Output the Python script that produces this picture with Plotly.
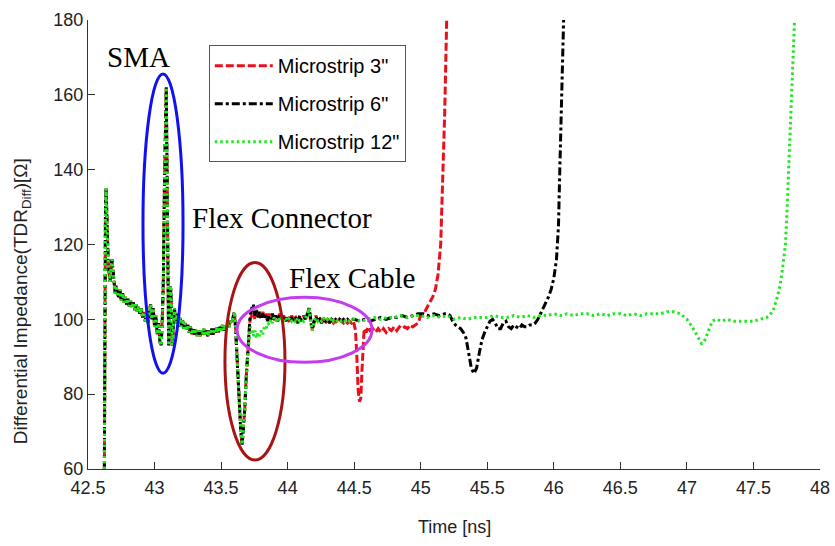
import plotly.graph_objects as go

# ---------------- data ----------------
# shared launch section (SMA + flex connector), time in ns
t_head = [42.623, 42.627, 42.631, 42.636, 42.641, 42.646, 42.652, 42.659, 42.666, 42.673,
          42.680, 42.688, 42.696, 42.704, 42.712, 42.720, 42.730, 42.740, 42.750, 42.760,
          42.770, 42.780, 42.790, 42.800, 42.810, 42.820, 42.830, 42.840, 42.850, 42.860,
          42.870, 42.880, 42.890, 42.900, 42.910, 42.920, 42.930, 42.940, 42.950, 42.960,
          42.970, 42.980, 42.990, 43.000, 43.010, 43.020, 43.030, 43.040, 43.050, 43.058,
          43.066, 43.074, 43.082, 43.088, 43.094, 43.100, 43.106, 43.113, 43.120, 43.127,
          43.134, 43.141, 43.150, 43.160, 43.170, 43.180, 43.190, 43.200, 43.210, 43.220,
          43.230, 43.240, 43.250, 43.260, 43.270, 43.280, 43.290, 43.300, 43.310, 43.320,
          43.330, 43.340, 43.350, 43.360, 43.370, 43.380, 43.390, 43.400, 43.410, 43.420,
          43.430, 43.440, 43.450, 43.460, 43.470, 43.480, 43.490, 43.500, 43.510, 43.520,
          43.530, 43.540, 43.550, 43.560, 43.570, 43.580, 43.590, 43.600, 43.610, 43.620,
          43.630, 43.640, 43.648, 43.658, 43.668, 43.678, 43.688, 43.698, 43.708]
z_head = [60, 110, 128, 135, 128, 120, 115, 112, 110, 114,
          116, 113, 110, 107, 109, 107, 106, 108, 105, 107,
          104.5, 106, 104, 105.5, 103.5, 105, 103, 104.5, 102.5, 104,
          102, 103.5, 101.5, 103, 100.5, 102, 99.5, 101.5, 99, 102,
          104, 100, 103, 98, 101, 96, 99, 94, 93, 100,
          110, 135, 155, 162, 140, 110, 93, 100, 109, 104,
          93, 98, 103, 99, 101.5, 99, 100.5, 98, 100, 97.5,
          99, 97, 98.5, 96.5, 98, 96, 97.5, 96, 97.5, 95.5,
          97, 95.5, 97, 96, 97.5, 96, 97, 95.5, 97, 96,
          97.5, 96, 97.5, 96.5, 98, 96.5, 98, 97, 98.5, 97,
          98.5, 97.5, 99, 98, 99.5, 99, 101, 102, 97, 89,
          83, 76, 70, 66.5, 71, 76, 84, 89, 95]

# flex cable section, per trace
t_mid = [43.718, 43.730, 43.742, 43.754, 43.766, 43.778, 43.790, 43.802, 43.814, 43.826,
         43.838, 43.850, 43.862, 43.874, 43.886, 43.898, 43.910, 43.925, 43.940, 43.955,
         43.970, 43.985, 44.000, 44.015, 44.030, 44.045, 44.060, 44.075, 44.090, 44.105,
         44.120, 44.135, 44.150, 44.162, 44.174, 44.186, 44.198, 44.212, 44.226, 44.240,
         44.255, 44.270, 44.285, 44.300, 44.315, 44.330, 44.345, 44.360, 44.375, 44.390,
         44.405, 44.420, 44.435, 44.450, 44.465, 44.480]
z3_mid = [100, 101, 102, 100, 102, 100.5, 101.5, 100, 102, 100.5,
          101.5, 100, 101.5, 100, 101, 99.5, 101, 100, 101.5, 100,
          101, 99.5, 100.5, 99, 101, 100, 100.5, 99, 100.5, 99.5,
          101, 100, 102, 103, 99, 97, 99, 101, 99.5, 100.5,
          99.5, 100, 99, 100, 99.5, 100, 99, 99.5, 99, 100,
          99.5, 99, 99.5, 99, 99.5, 99]
z6_mid = [101, 103, 104, 101, 102.5, 100.5, 102, 100, 101.5, 100,
          101, 99.5, 101, 100, 101.5, 100, 101, 99.5, 101, 100,
          101, 99.5, 101, 99.5, 100.5, 99.5, 100.5, 99, 101, 99.5,
          100, 100.5, 101.5, 103, 100, 97.5, 99.5, 100.5, 99.5, 100,
          99, 100, 99.5, 100, 99, 100, 99.5, 100, 99.5, 100,
          99.5, 100, 99.5, 100, 99.5, 100]
z12_mid = [98, 97, 95.5, 97, 95, 96.5, 95.5, 97, 96, 98,
           97.5, 99, 98.5, 100, 99, 100.5, 99.5, 100.5, 99.5, 100.5,
           99.5, 100.5, 99.5, 100.5, 99.5, 100, 99, 100.5, 99.5, 100,
           99.5, 100.5, 101.5, 103, 99, 97, 99.5, 100.5, 99.5, 100,
           99.5, 100.5, 99.5, 100, 99.5, 100.5, 99.5, 100, 99.5, 100,
           99.5, 100, 99.5, 100, 99.5, 100]

# tails
t3_tail = [44.495, 44.510, 44.520, 44.530, 44.540, 44.550, 44.558, 44.566, 44.575, 44.590,
           44.605, 44.620, 44.640, 44.660, 44.680, 44.700, 44.720, 44.740, 44.760, 44.780,
           44.800, 44.820, 44.840, 44.860, 44.880, 44.900, 44.920, 44.940, 44.960, 44.980,
           45.000, 45.030, 45.060, 45.090, 45.110, 45.130, 45.150, 45.165, 45.180, 45.195,
           45.205]
z3_tail = [99.5, 97, 90, 81, 78, 79, 86, 94, 97.5, 96.5,
           98, 97, 97.5, 96.5, 97.5, 96.5, 97.5, 96.5, 97.5, 97,
           98, 97, 98, 97.5, 98, 97.5, 98.5, 98, 98.5, 99,
           101, 102, 104, 106, 108, 112, 120, 135, 155, 180,
           190]

t6_tail = [44.500, 44.540, 44.580, 44.620, 44.660, 44.700, 44.740, 44.780, 44.820, 44.860,
           44.900, 44.940, 44.980, 45.020, 45.060, 45.100, 45.140, 45.180, 45.200, 45.220,
           45.240, 45.260, 45.280, 45.300, 45.320, 45.340, 45.360, 45.380, 45.400, 45.420,
           45.440, 45.460, 45.480, 45.500, 45.520, 45.540, 45.560, 45.580, 45.600, 45.620,
           45.640, 45.660, 45.680, 45.700, 45.720, 45.740, 45.760, 45.780, 45.800, 45.820,
           45.840, 45.860, 45.880, 45.900, 45.920, 45.940, 45.960, 45.980, 46.000, 46.020,
           46.035, 46.045, 46.055, 46.065, 46.075]
z6_tail = [100, 99.5, 100, 99.5, 100, 100.5, 100, 100.5, 100.5, 101,
           100.5, 101, 101.5, 101.5, 101, 101.5, 101, 101.5, 101.5, 101,
           99.5, 98.5, 98, 97.5, 96.5, 95, 91, 87, 85.5, 87,
           91, 94.5, 96.5, 98, 99.5, 100, 99, 97.5, 97.5, 99,
           99.5, 98, 97.5, 98.5, 98, 97.5, 98.5, 98, 98, 98.5,
           98.5, 99, 100, 101.5, 103, 104.5, 106, 108, 111, 116,
           125, 140, 155, 170, 182]

t12_tail = [44.500, 44.550, 44.600, 44.650, 44.700, 44.750, 44.800, 44.850, 44.900, 44.950,
            45.000, 45.050, 45.100, 45.150, 45.200, 45.250, 45.300, 45.350, 45.400, 45.450,
            45.500, 45.550, 45.600, 45.650, 45.700, 45.750, 45.800, 45.850, 45.900, 45.950,
            46.000, 46.050, 46.100, 46.150, 46.200, 46.250, 46.300, 46.350, 46.400, 46.450,
            46.500, 46.550, 46.600, 46.650, 46.700, 46.750, 46.800, 46.850, 46.900, 46.950,
            47.000, 47.040, 47.080, 47.110, 47.130, 47.160, 47.190, 47.220, 47.260, 47.300,
            47.350, 47.400, 47.450, 47.500, 47.550, 47.600, 47.620, 47.650, 47.680, 47.700,
            47.720, 47.740, 47.750, 47.765, 47.780, 47.790, 47.800, 47.810]
z12_tail = [100, 99.5, 100, 100.5, 100, 100.5, 100.5, 101, 100.5, 101,
            101, 100.5, 101, 100.5, 101, 100, 100.5, 100, 100.5, 100.5,
            100.5, 101, 100.5, 100.5, 101, 100.5, 101, 100.5, 101, 101,
            101.5, 101, 101.5, 101, 101.5, 101.5, 101, 101.5, 101, 101.5,
            101.5, 101, 101.5, 101, 101.5, 101.5, 101.5, 102, 102, 101.5,
            100, 98, 95.5, 93.5, 94, 97, 99.5, 100, 99.5, 100,
            99.5, 99.5, 99.5, 99.5, 100, 100.5, 101, 102.5, 106, 109,
            114, 120, 127, 140, 152, 162, 172, 181]

series_names = ['Microstrip 3"', 'Microstrip 6"', 'Microstrip 12"']

# ---------------- figure ----------------
t3 = t_head + t_mid + t3_tail
z3 = z_head + z3_mid + z3_tail
t6 = t_head + t_mid + t6_tail
z6 = z_head + z6_mid + z6_tail
t12 = t_head + t_mid + t12_tail
z12 = z_head + z12_mid + z12_tail

styles = [
    dict(color="#e8101a", dash="8px,3px"),
    dict(color="#000000", dash="8px,3px,3px,3px"),
    dict(color="#1ee81e", dash="2.5px,3px"),
]

fig = go.Figure()
for i, (tt, zz) in enumerate([(t3, z3), (t6, z6), (t12, z12)]):
    fig.add_trace(go.Scatter(
        x=tt, y=zz, mode="lines", name=series_names[i],
        legendgroup=f"g{i}",
        line=dict(width=3, color=styles[i]["color"], dash=styles[i]["dash"]),
    ))

serif = "Liberation Serif, Times New Roman, serif"
sans = "Liberation Sans, Arial, sans-serif"

# ellipses
fig.add_shape(type="circle", xref="x", yref="y", x0=42.913, x1=43.214, y0=85.6, y1=165.6,
              line=dict(color="#1010f0", width=3))
fig.add_shape(type="circle", xref="x", yref="y", x0=43.529, x1=43.98, y0=62.4, y1=115.2,
              line=dict(color="#a81414", width=3))
fig.add_shape(type="circle", xref="x", yref="y", x0=43.62, x1=44.634, y0=88.5, y1=105.9,
              line=dict(color="#c43cf0", width=3))

fig.add_annotation(x=42.876, y=170, text="SMA", showarrow=False,
                   font=dict(family=serif, size=29, color="black"))
fig.add_annotation(x=43.958, y=127.2, text="Flex Connector", showarrow=False,
                   font=dict(family=serif, size=29, color="black"))
fig.add_annotation(x=44.483, y=111, text="Flex Cable", showarrow=False,
                   font=dict(family=serif, size=29, color="black"))

# axis titles
fig.add_annotation(xref="paper", yref="paper", x=-0.09, y=0.374, textangle=-90,
                   text="Differential Impedance(TDR<sub>Diff</sub>)[Ω]", showarrow=False,
                   xanchor="center", yanchor="middle",
                   font=dict(family=sans, size=19, color="#222"))
fig.add_annotation(xref="paper", yref="paper", x=0.501, y=-0.129,
                   text="Time [ns]", showarrow=False, xanchor="center", yanchor="middle",
                   font=dict(family=sans, size=18, color="#222"))

fig.update_layout(
    width=835, height=546,
    margin=dict(l=88, r=15, t=20, b=77),
    paper_bgcolor="white", plot_bgcolor="white",
    showlegend=True,
    legend=dict(x=0.165, y=0.944, xanchor="left", yanchor="top",
                bordercolor="#555555", borderwidth=1, bgcolor="white",
                font=dict(family=sans, size=20, color="black"),
                tracegroupgap=9, traceorder="grouped", itemwidth=58),
    xaxis=dict(range=[42.5, 48], dtick=0.5, tick0=42.5, ticks="inside", ticklen=7,
               tickcolor="#333", showline=True, linecolor="#333", linewidth=1,
               showgrid=False, zeroline=False, automargin=False, ticklabelstandoff=2,
               tickfont=dict(family=sans, size=18, color="#222")),
    yaxis=dict(range=[60, 180], dtick=20, ticks="inside", ticklen=7,
               tickcolor="#333", showline=True, linecolor="#333", linewidth=1,
               showgrid=False, zeroline=False, automargin=False,
               tickfont=dict(family=sans, size=18, color="#222")),
)

fig.write_html("out.html")
